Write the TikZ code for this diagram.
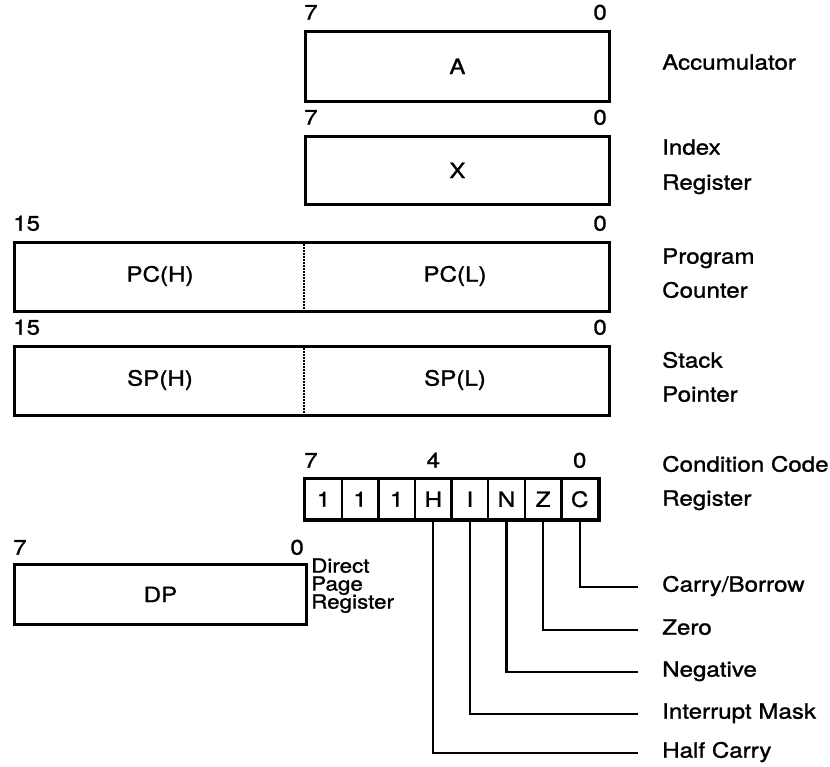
\documentclass[tikz,border=0pt]{standalone}
\usepackage{fontspec}
\setmainfont{TeX Gyre Heros}[FakeStretch=1.15,FakeBold=1.2]
\begin{document}
\begin{tikzpicture}[x=1pt,y=-1pt,
  font=\fontsize{21}{25}\selectfont,
  reg/.style={draw,line width=2.8pt,inner sep=0pt,anchor=north west},
  cell/.style={draw,line width=2.4pt,minimum width=36.6pt,minimum height=40pt,inner sep=0pt,anchor=north west},
  divider/.style={densely dotted,line width=2pt},
  lbl/.style={anchor=mid west,inner sep=0pt},
  small/.style={anchor=mid west,inner sep=0pt,font=\fontsize{19.5}{22}\selectfont},
  bitl/.style={anchor=mid west,inner sep=0pt},
  bitr/.style={anchor=mid east,inner sep=0pt},
  bitc/.style={anchor=mid,inner sep=0pt},
  conn/.style={line width=2.2pt}]
\useasboundingbox (0,0) rectangle (830,766);

% Accumulator
\node[reg,minimum width=304pt,minimum height=70pt] (A) at (304,30) {A};
\node[bitl] (a7) at (304,17) {7};
\node[bitr] (a0) at (607,17) {0};
\node[lbl] (lA) at (662,67) {Accumulator};

% Index register
\node[reg,minimum width=304pt,minimum height=68pt] (X) at (304,135) {X};
\node[bitl] (x7) at (304,122) {7};
\node[bitr] (x0) at (607,122) {0};
\node[lbl] (lX1) at (662,152) {Index};
\node[lbl] (lX2) at (662,187) {Register};

% Program counter
\node[reg,minimum width=595pt,minimum height=69pt] (PC) at (13,241) {};
\draw[divider] (PC.north -| A.west) -- (PC.south -| A.west);
\node (pch) at (160,276) {PC(H)};
\node (pcl) at (455,276) {PC(L)};
\node[bitl] (pc15) at (13,228) {15};
\node[bitr] (pc0) at (607,228) {0};
\node[lbl] (lP1) at (662,261) {Program};
\node[lbl] (lP2) at (662,295) {Counter};

% Stack pointer
\node[reg,minimum width=595pt,minimum height=69pt] (SP) at (13,345) {};
\draw[divider] (SP.north -| A.west) -- (SP.south -| A.west);
\node (sph) at (160,380) {SP(H)};
\node (spl) at (455,380) {SP(L)};
\node[bitl] (sp15) at (13,332) {15};
\node[bitr] (sp0) at (607,332) {0};
\node[lbl] (lS1) at (662,365) {Stack};
\node[lbl] (lS2) at (662,399) {Pointer};

% Condition code register
\foreach \t [count=\i] in {1,1,1,H,I,N,Z,C}
  \node[cell] (cc\i) at ({304+(\i-1)*36.6},478) {\t};
\draw[line width=2.8pt] (cc1.north west) rectangle (cc8.south east);
\node[bitl] (c7) at (304,465) {7};
\node[bitc] (c4) at (cc4.north |- 0,465) {4};
\node[bitc] (c0) at (cc8.north |- 0,465) {0};
\node[lbl] (lC1) at (662,469) {Condition Code};
\node[lbl] (lC2) at (662,503) {Register};

% Flag connectors
\coordinate (eC) at (638,587);
\coordinate (eZ) at (638,630);
\coordinate (eN) at (638,672);
\coordinate (eI) at (638,714);
\coordinate (eH) at (638,753);
\draw[conn] (cc8.south) |- (eC);
\draw[conn] (cc7.south) |- (eZ);
\draw[conn] (cc6.south) |- (eN);
\draw[conn] (cc5.south) |- (eI);
\draw[conn] (cc4.south) |- (eH);
\node[lbl] (fC) at (662,589) {Carry/Borrow};
\node[lbl] (fZ) at (662,632) {Zero};
\node[lbl] (fN) at (662,674) {Negative};
\node[lbl] (fI) at (662,716) {Interrupt Mask};
\node[lbl] (fH) at (662,755) {Half Carry};

% Direct page register
\node[reg,minimum width=292pt,minimum height=60pt] (DP) at (13,563) {DP};
\node[bitl] (d7) at (13,552) {7};
\node[bitr] (d0) at (304,552) {0};
\node[small] (dl1) at (311,570) {Direct};
\node[small] (dl2) at (311,588) {Page};
\node[small] (dl3) at (311,606) {Register};
\end{tikzpicture}
\end{document}
